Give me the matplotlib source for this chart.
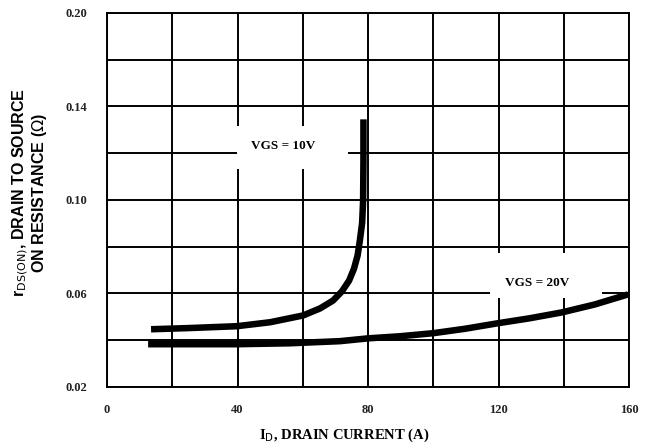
import numpy as np
import matplotlib
matplotlib.use("Agg")
import matplotlib.pyplot as plt
from matplotlib.patches import Rectangle

# drain current (A) and on-resistance (ohm)
id_10v = [13.5, 25, 39.8, 50, 60.1, 65.3, 69.3, 72.0, 74.2, 75.7, 76.8, 77.5, 78.2, 78.5, 78.6, 78.6]
rds_10v = [0.0447, 0.0452, 0.0460, 0.0477, 0.0506, 0.0536, 0.0570, 0.0609, 0.0655,
           0.0706, 0.0762, 0.0826, 0.0902, 0.0996, 0.1166, 0.1345]

id_20v = [12.6, 28.5, 39.8, 56.1, 71.4, 80.0, 89.8, 99.9, 109.7, 119.5, 129.6, 139.4, 149.5, 159.7]
rds_20v = [0.0383, 0.0383, 0.0383, 0.0387, 0.0396, 0.0408, 0.0417, 0.0430, 0.0449,
           0.0472, 0.0494, 0.0519, 0.0553, 0.0596]

x_ticks = [0, 40, 80, 120, 160]
y_ticks = [0.02, 0.06, 0.10, 0.14, 0.18]
y_ticklabels = ["0.02", "0.06", "0.10", "0.14", "0.20"]

fig = plt.figure(figsize=(6.45, 4.48), dpi=100)
ax = fig.add_axes([0.1659, 0.1362, 0.8093, 0.8348])

ax.set_xlim(0, 160)
ax.set_ylim(0.02, 0.18)
ax.set_xticks(np.arange(0, 161, 20), minor=True)
ax.set_yticks(np.arange(0.02, 0.181, 0.02), minor=True)
ax.grid(True, which="both", color="black", lw=1.4, zorder=1)
ax.set_axisbelow(True)
ax.tick_params(which="both", length=0)
for s in ax.spines.values():
    s.set_linewidth(1.4)

ax.set_xticks(x_ticks)
ax.set_xticklabels([str(v) for v in x_ticks], family="Liberation Serif",
                   fontweight="bold", fontsize=9, color="#222222")
ax.set_yticks(y_ticks)
ax.set_yticklabels(y_ticklabels, family="Liberation Serif",
                   fontweight="bold", fontsize=9, color="#222222")
ax.tick_params(axis="x", pad=12)
ax.tick_params(axis="y", pad=14)

# white boxes behind the curve labels (they cut the grid lines)
ax.add_patch(Rectangle((39.8, 0.1132), 34.1, 0.0183, facecolor="white",
                       edgecolor="none", zorder=2))
ax.add_patch(Rectangle((117.4, 0.0579), 34.3, 0.0195, facecolor="white",
                       edgecolor="none", zorder=2))

ax.plot(id_10v, rds_10v, color="black", lw=4.7, solid_capstyle="butt",
        solid_joinstyle="round", zorder=3)
ax.plot(id_20v, rds_20v, color="black", lw=4.7, solid_capstyle="butt",
        solid_joinstyle="round", zorder=3)

ax.text(54, 0.123, "VGS = 10V", family="Liberation Serif", fontweight="bold",
        fontsize=9.5, ha="center", va="center", zorder=4)
ax.text(131.8, 0.0643, "VGS = 20V", family="Liberation Serif", fontweight="bold",
        fontsize=9.5, ha="center", va="center", zorder=4)

ax.set_xlabel("I$_\\mathrm{D}$, DRAIN CURRENT (A)", family="Liberation Serif",
              fontweight="bold", fontsize=10.5)
ax.xaxis.set_label_coords(0.454, -0.105)
ax.set_ylabel("r$_\\mathrm{DS(ON)}$, DRAIN TO SOURCE\nON RESISTANCE ($\\Omega$)",
              family="Liberation Sans", fontweight="bold", fontsize=11.5,
              linespacing=0.95)
ax.yaxis.set_label_coords(-0.112, 0.52)

fig.savefig("out.png", dpi=100)
